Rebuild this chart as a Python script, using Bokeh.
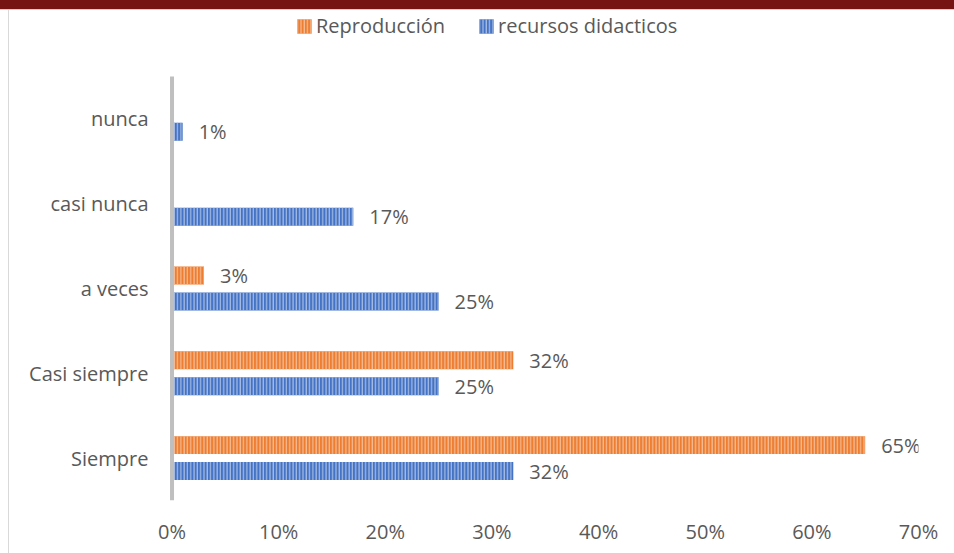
from bokeh.plotting import figure
from bokeh.models import ColumnDataSource, Range1d, NumeralTickFormatter, FixedTicker, Legend, LegendItem
from bokeh.embed import file_html
from bokeh.resources import INLINE
from bokeh.core.properties import value

# ---- data ----
categories = ["Siempre", "Casi siempre", "a veces", "casi nunca", "nunca"]
series_names = ["Reproducción", "recursos didacticos"]
reproduccion = [0.65, 0.32, 0.03, 0.0, 0.0]
recursos = [0.32, 0.25, 0.25, 0.17, 0.01]
x_ticks = [0.0, 0.1, 0.2, 0.3, 0.4, 0.5, 0.6, 0.7]

FONT = "Open Sans"
TXT = "#595959"
ORANGE, ORANGE_H = "#ED7D31", "#F6BE98"
BLUE, BLUE_H = "#4472C4", "#A9BFE6"

OFF = 0.153   # bar offset from category centre (category units)
H = 0.212     # bar thickness (category units)
ypos = list(range(len(categories)))


def pct(v):
    return f"{round(v * 100)}%"


src_rep = ColumnDataSource(dict(y=[i + OFF for i in ypos], val=reproduccion))
src_rec = ColumnDataSource(dict(y=[i - OFF for i in ypos], val=recursos))
lab_rep = ColumnDataSource(dict(
    y=[i + OFF for i, v in zip(ypos, reproduccion) if v > 0],
    val=[v for v in reproduccion if v > 0],
    lbl=[pct(v) for v in reproduccion if v > 0]))
lab_rec = ColumnDataSource(dict(
    y=[i - OFF for i, v in zip(ypos, recursos) if v > 0],
    val=[v for v in recursos if v > 0],
    lbl=[pct(v) for v in recursos if v > 0]))

p = figure(width=954, height=553,
           x_range=Range1d(-0.0033, 0.7),
           y_range=Range1d(ypos[0] - 0.5, ypos[-1] + 0.5 + 0.778),
           output_backend="svg", toolbar_location=None,
           min_border_left=168, min_border_right=36,
           min_border_top=10, min_border_bottom=53)
p.border_fill_color = None
p.background_fill_color = "white"
p.styles = {
    "background": ("linear-gradient(#761313,#761313) 0 0 / 100% 9px no-repeat, "
                   "linear-gradient(#D0D0D0,#D0D0D0) 0 9px / 100% 1px no-repeat, "
                   "linear-gradient(#D9D9D9,#D9D9D9) 8px 10px / 1px 100% no-repeat, "
                   "white"),
}

r_rep = p.hbar(y="y", right="val", left=0, height=H,
               source=src_rep, fill_color=ORANGE, line_color=None,
               hatch_pattern="vertical_line", hatch_color=ORANGE_H,
               hatch_scale=3.3, hatch_weight=1.2)
r_rec = p.hbar(y="y", right="val", left=0, height=H,
               source=src_rec, fill_color=BLUE, line_color=None,
               hatch_pattern="vertical_line", hatch_color=BLUE_H,
               hatch_scale=3.3, hatch_weight=1.2)

# category axis line (spans only the category band)
p.segment(x0=[0], x1=[0], y0=[ypos[0] - 0.5], y1=[ypos[-1] + 0.5],
          line_color="#BFBFBF", line_width=4)

p.text(x="val", y="y", text="lbl", source=lab_rep,
       x_offset=16, text_align="left", text_baseline="middle",
       text_font=value(FONT), text_font_size="20px", text_color=TXT)
p.text(x="val", y="y", text="lbl", source=lab_rec,
       x_offset=16, text_align="left", text_baseline="middle",
       text_font=value(FONT), text_font_size="20px", text_color=TXT)

legend = Legend(items=[LegendItem(label=series_names[0], renderers=[r_rep]),
                       LegendItem(label=series_names[1], renderers=[r_rec])],
                orientation="horizontal", location=(127, 461),
                padding=0, margin=0, spacing=32,
                glyph_width=18, glyph_height=18, label_standoff=3,
                label_text_font=FONT, label_text_font_size="20px",
                label_text_color=TXT, border_line_color=None,
                background_fill_alpha=0)
p.add_layout(legend)

p.xgrid.visible = False
p.ygrid.visible = False
p.outline_line_color = None

xa = p.xaxis[0]
xa.ticker = FixedTicker(ticks=x_ticks)
xa.formatter = NumeralTickFormatter(format="0%")
xa.axis_line_color = None
xa.major_tick_line_color = None
xa.minor_tick_line_color = None
xa.major_tick_out = 0
xa.major_tick_in = 0
xa.major_label_standoff = 17
xa.major_label_text_font = FONT
xa.major_label_text_font_size = "20px"
xa.major_label_text_color = TXT

ya = p.yaxis[0]
ya.ticker = FixedTicker(ticks=ypos)
ya.major_label_overrides = {i: c for i, c in zip(ypos, categories)}
ya.axis_line_color = None
ya.major_tick_line_color = None
ya.minor_tick_line_color = None
ya.major_tick_out = 0
ya.major_tick_in = 0
ya.major_label_standoff = 20
ya.major_label_text_font = FONT
ya.major_label_text_font_size = "20px"
ya.major_label_text_color = TXT

open("out.html", "w").write(file_html(p, INLINE))
